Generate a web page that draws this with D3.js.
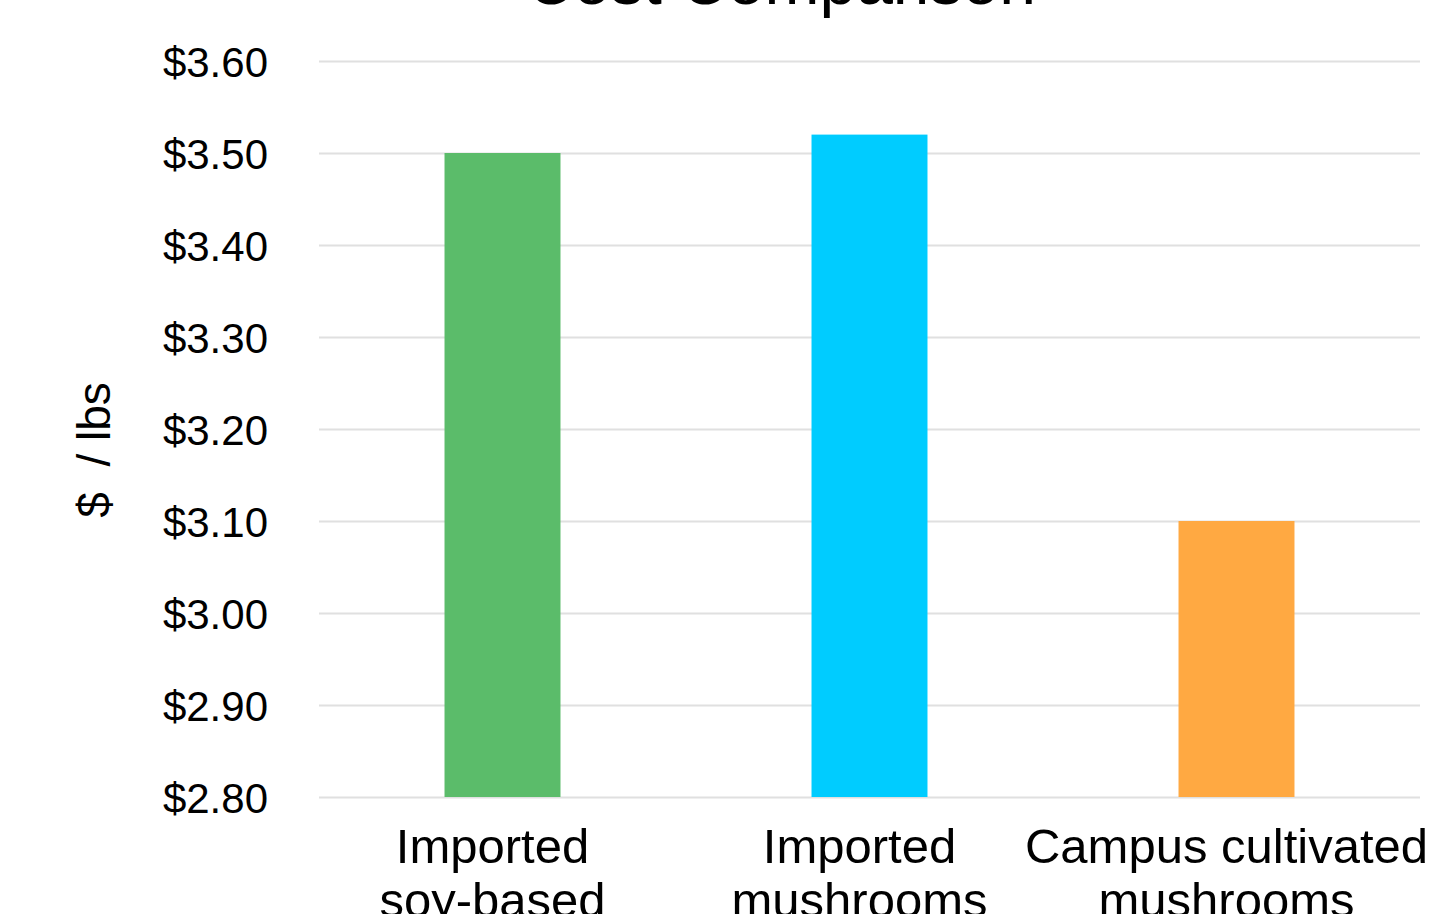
<!DOCTYPE html>
<html>
<head>
<meta charset="utf-8">
<script src="https://cdn.jsdelivr.net/npm/d3@7"></script>
<style>
  body { margin: 0; background: #fff; }
  text { font-family: "Liberation Sans", Arial, Helvetica, sans-serif; fill: #000; }
</style>
</head>
<body>
<script>
// ================================
// DATA
// ================================
var categories = [
    ["Imported", "soy-based"],
    ["Imported", "mushrooms"],
    ["Campus cultivated", "mushrooms"]
];
var costs = [3.50, 3.52, 3.10];
var barColors = ["#5bbc6a", "#00ccff", "#ffa942"];
var yTicks = [2.80, 2.90, 3.00, 3.10, 3.20, 3.30, 3.40, 3.50, 3.60];

var chartTitle = "Cost Comparison";
var yLabel = "$  / lbs";

// ================================
// LAYOUT
// ================================
var width = 1429,
    height = 914;
var margin = {top: 61, right: 9, bottom: 117, left: 319};
var plotW = width - margin.left - margin.right,
    plotH = height - margin.top - margin.bottom;

var svg = d3.select("body")
    .append("svg")
    .attr("width", width)
    .attr("height", height);

var g = svg.append("g")
    .attr("transform", "translate(" + margin.left + "," + margin.top + ")");

var x = d3.scaleBand()
    .domain(d3.range(categories.length))
    .range([0, plotW])
    .paddingInner(0.684)
    .paddingOuter(0.342);

var y = d3.scaleLinear()
    .domain([2.80, 3.60])
    .range([plotH, 0]);

// gridlines + tick labels
var yAxis = g.append("g")
    .call(d3.axisLeft(y)
        .tickValues(yTicks)
        .tickSize(-plotW)
        .tickPadding(51)
        .tickFormat(function(d){ return "$" + d.toFixed(2); }));

yAxis.select(".domain").remove();
yAxis.selectAll("line")
    .attr("stroke", "#e0e0e0")
    .attr("stroke-width", 2);
yAxis.selectAll("text")
    .attr("font-size", 42)
    .attr("dy", "0.36em");

// bars
g.selectAll(".bar")
    .data(costs)
    .enter()
    .append("rect")
    .attr("class", "bar")
    .attr("x", function(d, i){ return x(i); })
    .attr("width", x.bandwidth())
    .attr("y", function(d){ return y(d); })
    .attr("height", function(d){ return plotH - y(d); })
    .attr("fill", function(d, i){ return barColors[i]; });

// category labels (sit a bit left of the bar centre, like the original)
var labels = g.selectAll(".cat")
    .data(categories)
    .enter()
    .append("text")
    .attr("class", "cat")
    .attr("text-anchor", "middle")
    .attr("font-size", 49)
    .attr("x", function(d, i){ return x(i) + x.bandwidth() / 2 - 10; })
    .attr("y", plotH + 66);

labels.selectAll("tspan")
    .data(function(d){ return d; })
    .enter()
    .append("tspan")
    .attr("x", function(){ return d3.select(this.parentNode).attr("x"); })
    .attr("dy", function(d, i){ return i === 0 ? 0 : 54; })
    .text(function(d){ return d; });

// title
svg.append("text")
    .attr("x", 781)
    .attr("y", 4)
    .attr("text-anchor", "middle")
    .attr("font-size", 66)
    .text(chartTitle);

// y axis label
svg.append("text")
    .attr("transform", "translate(110,450) rotate(-90)")
    .attr("text-anchor", "middle")
    .attr("font-size", 46)
    .style("white-space", "pre")
    .text(yLabel);
</script>
</body>
</html>
